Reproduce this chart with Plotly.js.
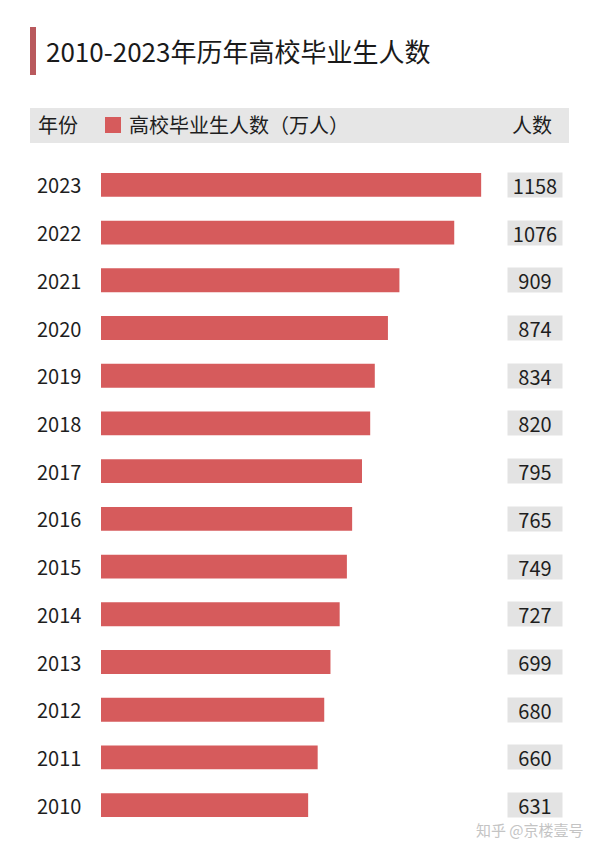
<!DOCTYPE html>
<html>
<head>
<meta charset="utf-8">
<script src="https://cdn.plot.ly/plotly-3.0.1.min.js"></script>
<style>html,body{margin:0;padding:0;background:#fff;}#chart{width:600px;height:855px;}</style>
</head>
<body>
<div id="chart"></div>
<script>
const years = ['2010','2011','2012','2013','2014','2015','2016','2017','2018','2019','2020','2021','2022','2023'];
const graduates = [631, 660, 680, 699, 727, 749, 765, 795, 820, 834, 874, 909, 1076, 1158];
const titleText = '2010-2023年历年高校毕业生人数';
const headerYear = '年份';
const headerSeries = '高校毕业生人数（万人）';
const headerValue = '人数';
const watermark = '知乎 @京楼壹号';

const FONT = '"Noto Sans CJK SC", "Noto Sans", sans-serif';
const W = 600, H = 855;
const ML = 101, MR = 0, MT = 161, MB = 26;
const PW = W - ML - MR, PH = H - MT - MB;
const px2x = p => (p - ML) / PW;
const px2y = p => (H - MB - p) / PH;
const barColor = '#d65b5c';

const annotations = [];
years.forEach((yr, i) => {
  // category axis: position i is the category years[i]
  annotations.push({
    xref: 'paper', yref: 'y', x: px2x(35), y: i, xanchor: 'left', yanchor: 'middle',
    text: yr, showarrow: false, font: {family: FONT, size: 20, color: '#1e1e1e'}
  });
  annotations.push({
    xref: 'paper', yref: 'y', x: px2x(535), y: i, xanchor: 'center', yanchor: 'middle',
    text: String(graduates[i]), showarrow: false, bgcolor: '#e3e3e3',
    width: 54, height: 24, borderpad: 0,
    font: {family: FONT, size: 20, color: '#1e1e1e'}
  });
});
annotations.push(
  {xref: 'paper', yref: 'paper', x: px2x(44), y: px2y(51), xanchor: 'left', yanchor: 'middle',
   text: titleText, showarrow: false, font: {family: FONT, size: 26, color: '#1a1a1a'}},
  {xref: 'paper', yref: 'paper', x: px2x(36), y: px2y(125), xanchor: 'left', yanchor: 'middle',
   text: headerYear, showarrow: false, font: {family: FONT, size: 20, color: '#1e1e1e'}},
  {xref: 'paper', yref: 'paper', x: px2x(127), y: px2y(125), xanchor: 'left', yanchor: 'middle',
   text: headerSeries, showarrow: false, font: {family: FONT, size: 20, color: '#1e1e1e'}},
  {xref: 'paper', yref: 'paper', x: px2x(554), y: px2y(125), xanchor: 'right', yanchor: 'middle',
   text: headerValue, showarrow: false, font: {family: FONT, size: 20, color: '#1e1e1e'}},
  {xref: 'paper', yref: 'paper', x: px2x(586), y: px2y(829), xanchor: 'right', yanchor: 'middle',
   text: watermark, showarrow: false, font: {family: FONT, size: 15, color: '#c4c4c4'}}
);

const shapes = [
  {type: 'rect', xref: 'paper', yref: 'paper', x0: px2x(30), x1: px2x(36), y0: px2y(75), y1: px2y(27),
   fillcolor: '#b9595d', line: {width: 0}, layer: 'below'},
  {type: 'rect', xref: 'paper', yref: 'paper', x0: px2x(30), x1: px2x(569), y0: px2y(143), y1: px2y(108),
   fillcolor: '#e6e6e6', line: {width: 0}, layer: 'below'},
  {type: 'rect', xref: 'paper', yref: 'paper', x0: px2x(105), x1: px2x(121), y0: px2y(133), y1: px2y(117),
   fillcolor: barColor, line: {width: 0}, layer: 'above'}
];

const trace = {
  type: 'bar', orientation: 'h', x: graduates, y: years,
  marker: {color: barColor, line: {width: 0}},
  hoverinfo: 'none', showlegend: false
};

const layout = {
  width: W, height: H,
  margin: {l: ML, r: MR, t: MT, b: MB, pad: 0},
  paper_bgcolor: '#ffffff', plot_bgcolor: '#ffffff',
  bargap: 0.5,
  xaxis: {range: [0, 1520], showgrid: false, zeroline: false, showticklabels: false, showline: false, fixedrange: true},
  yaxis: {type: 'category', categoryorder: 'array', categoryarray: years, range: [-0.5, 13.5],
          showgrid: false, zeroline: false, showticklabels: false, showline: false, fixedrange: true},
  annotations: annotations,
  shapes: shapes,
  font: {family: FONT}
};

Plotly.newPlot('chart', [trace], layout, {displayModeBar: false, staticPlot: true});
</script>
</body>
</html>
